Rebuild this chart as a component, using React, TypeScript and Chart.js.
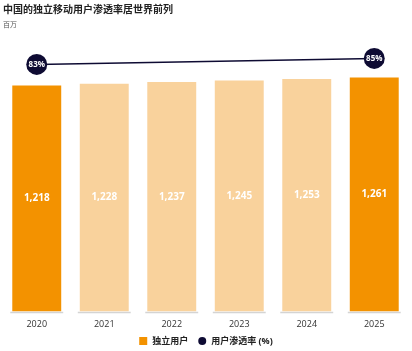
import React, { useEffect, useRef } from "react";
import { Chart, registerables } from "chart.js";

Chart.register(...registerables);

const years = ["2020", "2021", "2022", "2023", "2024", "2025"];
const users = [1218, 1228, 1237, 1245, 1253, 1261];
const penetration = [83, null, null, null, null, 85];
const barColors = ["#F39200", "#F9D29C", "#F9D29C", "#F9D29C", "#F9D29C", "#F39200"];
const seriesNames = ["独立用户", "用户渗透率 (%)"];

const FONT = "'Open Sans', 'Noto Sans CJK SC', sans-serif";
const NAVY = "#0E0B33";
const ORANGE = "#F39200";
const POINT_R = 10.5;

const labelPlugin = {
  id: "labels",
  beforeDatasetsDraw(chart: any) {
    const ctx = chart.ctx;
    const meta = chart.getDatasetMeta(0);
    ctx.save();
    ctx.strokeStyle = "#D4D4D4";
    ctx.lineWidth = 1.5;
    meta.data.forEach((bar: any) => {
      const half = bar.width / 2 + 2;
      ctx.beginPath();
      ctx.moveTo(bar.x - half, bar.base + 1);
      ctx.lineTo(bar.x + half, bar.base + 1);
      ctx.stroke();
    });
    ctx.restore();
  },
  afterDatasetsDraw(chart: any) {
    const ctx = chart.ctx;
    ctx.save();
    ctx.textAlign = "center";
    ctx.textBaseline = "middle";
    ctx.fillStyle = "#FFFFFF";
    ctx.font = `bold 10px ${FONT}`;
    chart.getDatasetMeta(0).data.forEach((bar: any, i: number) => {
      ctx.fillText(users[i].toLocaleString("en-US"), bar.x, (bar.y + bar.base) / 2);
    });
    chart.getDatasetMeta(1).data.forEach((pt: any, i: number) => {
      const v = penetration[i];
      if (v == null) return;
      ctx.fillStyle = NAVY;
      ctx.beginPath();
      ctx.arc(pt.x, pt.y, POINT_R, 0, Math.PI * 2);
      ctx.fill();
      ctx.fillStyle = "#FFFFFF";
      ctx.font = `bold 8px ${FONT}`;
      ctx.fillText(v + "%", pt.x, pt.y + 0.5);
    });
    ctx.restore();
  },
  afterDraw(chart: any) {
    const ctx = chart.ctx;
    ctx.save();
    ctx.font = `bold 9px ${FONT}`;
    ctx.textBaseline = "middle";
    ctx.textAlign = "left";
    const box = 8;
    const gap = 5;
    const itemGap = 10;
    const widths = seriesNames.map((n) => ctx.measureText(n).width);
    const total = widths.reduce((a, w) => a + box + gap + w, 0) + itemGap * (seriesNames.length - 1);
    let x = (chart.width - total) / 2;
    const y = chart.height - 10;
    seriesNames.forEach((name, i) => {
      if (i === 0) {
        ctx.fillStyle = ORANGE;
        ctx.fillRect(x, y - box / 2, box, box);
      } else {
        ctx.fillStyle = NAVY;
        ctx.beginPath();
        ctx.arc(x + box / 2, y, box / 2, 0, Math.PI * 2);
        ctx.fill();
      }
      x += box + gap;
      ctx.fillStyle = "#222222";
      ctx.fillText(name, x, y);
      x += widths[i] + itemGap;
    });
    ctx.restore();
  },
};

export default function App() {
  const ref = useRef<HTMLCanvasElement>(null);
  useEffect(() => {
    document.body.style.margin = "0";
    const chart = new Chart(ref.current!, {
      type: "bar",
      data: {
        labels: years,
        datasets: [
          {
            type: "bar",
            label: seriesNames[0],
            data: users,
            backgroundColor: barColors,
            categoryPercentage: 1,
            barPercentage: 0.725,
            yAxisID: "y",
            order: 1,
          } as any,
          {
            type: "line",
            label: seriesNames[1],
            data: penetration,
            spanGaps: true,
            borderColor: NAVY,
            backgroundColor: NAVY,
            borderWidth: 1.5,
            pointRadius: 0,
            pointHoverRadius: 0,
            pointHitRadius: 0,
            yAxisID: "y1",
            order: 0,
          } as any,
        ],
      },
      options: {
        animation: false,
        responsive: false,
        layout: { padding: { left: 3, right: 4, top: 0, bottom: 13.6 } },
        plugins: {
          title: {
            display: true,
            text: "中国的独立移动用户渗透率居世界前列",
            align: "start",
            color: "#222222",
            font: { family: FONT, size: 10, weight: "bold" },
            padding: { top: 4, bottom: 2 },
          },
          subtitle: {
            display: true,
            text: "百万",
            align: "start",
            color: "#555555",
            font: { family: FONT, size: 7 },
            padding: { top: 3, bottom: 9.4 },
          },
          legend: { display: false },
          tooltip: { enabled: false },
        },
        scales: {
          x: {
            grid: { display: false, drawTicks: false },
            border: { display: false },
            ticks: { color: "#333333", font: { family: FONT, size: 9 }, padding: 7.6 },
          },
          y: { display: false, min: 0, max: 1470 },
          y1: { display: false, min: 1, max: 91.5 },
        },
      } as any,
      plugins: [labelPlugin],
    });
    return () => chart.destroy();
  }, []);
  return <canvas ref={ref} width={412} height={351} style={{ display: "block" }} />;
}
